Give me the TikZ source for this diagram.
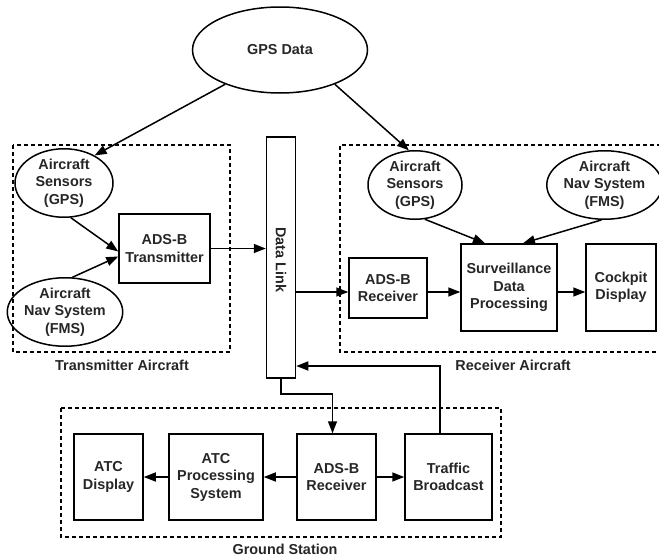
\documentclass[tikz,border=0pt]{standalone}
\usepackage{fontspec}
\setmainfont{Liberation Sans}
\usetikzlibrary{shapes.geometric,arrows.meta,calc}
\begin{document}
\begin{tikzpicture}[x=1pt,y=-1pt,
  every node/.style={font=\fontsize{14.4}{17.5}\selectfont\bfseries, align=center, inner sep=0pt, text=black!85},
  ell/.style={draw=black, line width=1.5pt, ellipse},
  blk/.style={draw=black, line width=1.5pt, rectangle},
  arr/.style={line width=1.5pt, -{Triangle[length=12pt,width=9pt]}},
  grp/.style={line width=1.5pt, dash pattern=on 4pt off 3pt},
  lbl/.style={}
]
\useasboundingbox (0,0) rectangle (659,557);

% group frames
\draw[grp] (13,145) rectangle (230,352);
\draw[grp] (661,145) -- (340,145) -- (340,352) -- (661,352);
\draw[grp] (61,408) rectangle (501,537);
\node[lbl] (ltx) at (122,365) {Transmitter Aircraft};
\node[lbl] (lrx) at (513,365) {Receiver Aircraft};
\node[lbl] (lgs) at (285,549) {Ground Station};

% nodes
\node[ell, minimum width=175pt, minimum height=86pt] (gps) at (280,50) {GPS Data};
\node[ell, minimum width=98pt, minimum height=57pt] (ls) at (64,183) {Aircraft\\Sensors\\(GPS)};
\node[ell, minimum width=96pt, minimum height=55pt] (ln) at (65,312) {Aircraft\\Nav System\\(FMS)};
\node[blk, minimum width=91pt, minimum height=69pt] (tx) at (164.5,248.5) {ADS-B\\Transmitter};
\node[blk, minimum width=29pt, minimum height=241pt] (dl) at (281,257.5) {};
\node[rotate=-90] (dlt) at (281,260) {Data Link};
\node[ell, minimum width=94pt, minimum height=56pt] (rs) at (415,185) {Aircraft\\Sensors\\(GPS)};
\node[ell, minimum width=95pt, minimum height=56pt] (rn) at (604.5,185) {Aircraft\\Nav System\\(FMS)};
\node[blk, minimum width=78pt, minimum height=60pt] (rxa) at (388,288) {ADS-B\\Receiver};
\node[blk, minimum width=96pt, minimum height=87pt] (sv) at (509,287.5) {Surveillance\\Data\\Processing};
\node[blk, minimum width=70pt, minimum height=87pt] (cd) at (621,287.5) {Cockpit\\Display};
\node[blk, minimum width=69pt, minimum height=86pt] (atd) at (108.5,477) {ATC\\Display};
\node[blk, minimum width=94pt, minimum height=86pt] (atp) at (216,477) {ATC\\Processing\\System};
\node[blk, minimum width=79pt, minimum height=86pt] (rxg) at (336.5,477) {ADS-B\\Receiver};
\node[blk, minimum width=87pt, minimum height=86pt] (tb) at (448.5,477) {Traffic\\Broadcast};

% helper coordinates
\coordinate (h292) at (0,292);
\coordinate (h366) at (0,366);
\coordinate (h394) at (0,394);

% connectors
\draw[arr] (gps.212) -- (ls.42);
\draw[arr] (gps.328) -- (rs.100);
\draw[arr] (ls.281) -- ($(tx.west)+(0,3)$);
\draw[arr] (ln.78) -- ($(tx.west)+(0,8)$);
\draw[arr] (tx.east) -- (tx.east -| dl.west);
\draw[arr] (dl.east |- h292) -- (rxa.west |- h292);
\draw[arr] (rxa.east |- h292) -- (sv.west |- h292);
\draw[arr] (sv.east |- h292) -- (cd.west |- h292);
\draw[arr] (rs.286) -- ($(sv.north)+(-24,0)$);
\draw[arr] (rn.265) -- ($(sv.north)+(14,0)$);
\coordinate (rxin) at ($(rxg.north)+(-4,0)$);
\draw[arr] (dl.south) -- (dl.south |- h394) -| (rxin);
\coordinate (tbout) at ($(tb.north)+(-8.5,0)$);
\draw[arr] (tbout) |- (dl.east |- h366);
\draw[arr] (rxg.west) -- (atp.east);
\draw[arr] (atp.west) -- (atd.east);
\draw[arr] (rxg.east) -- (tb.west);
\end{tikzpicture}
\end{document}
